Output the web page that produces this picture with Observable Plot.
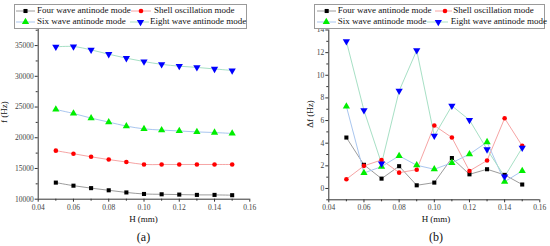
<!DOCTYPE html>
<html>
<head>
<meta charset="utf-8">
<script src="https://cdn.jsdelivr.net/npm/d3@7"></script>
<script src="https://cdn.jsdelivr.net/npm/@observablehq/plot@0.6"></script>
<style>
  html, body { margin: 0; padding: 0; background: #fff; }
  #wrap { position: relative; width: 550px; height: 246px; overflow: hidden; font-family: 'Liberation Serif', 'Times New Roman', serif; color: #111; }
  .panel { position: absolute; top: 0; width: 275px; height: 246px; }
  .panel svg { display: block; }
  .lbox { position: absolute; border: 1px solid #9a9a9a; background: #fff; box-sizing: border-box; }
  .ltxt { position: absolute; font-size: 9px; line-height: 11px; white-space: nowrap; color: #111; }
  .lsym { position: absolute; }
  .xl { position: absolute; font-size: 9px; line-height: 11px; white-space: nowrap; transform: translate(-50%, -50%); color: #111; }
  .yl { position: absolute; font-size: 9px; line-height: 11px; white-space: nowrap; transform: translate(-50%, -50%) rotate(-90deg); color: #111; }
  .cap { position: absolute; font-size: 12px; line-height: 14px; white-space: nowrap; transform: translate(-50%, -50%); color: #111; }
</style>
</head>
<body>
<div id="wrap">
  <div class="panel" id="pa" style="left:0"></div>
  <div class="panel" id="pb" style="left:275px"></div>
</div>
<script>
// ---------- data ----------
const H = [0.05, 0.06, 0.07, 0.08, 0.09, 0.10, 0.11, 0.12, 0.13, 0.14, 0.15];
const modes = ["Four wave antinode mode", "Shell oscillation mode", "Six wave antinode mode", "Eight wave antinode mode"];

// (a) natural frequency f (Hz)
const fFour  = [12700, 12200, 11800, 11450, 11100, 10850, 10800, 10750, 10700, 10700, 10650];
const fShell = [17900, 17400, 16900, 16450, 16050, 15650, 15650, 15650, 15650, 15650, 15650];
const fSix   = [24600, 23950, 23200, 22550, 21900, 21450, 21250, 21100, 20950, 20850, 20700];
const fEight = [34800, 34850, 34300, 33600, 32950, 32400, 31950, 31650, 31450, 31200, 30950];

// (b) frequency split Δf (Hz)
const dFour  = [4.5, 2.09, 0.87, 1.97, 0.28, 0.52, 2.69, 1.25, 1.7, 1.2, 0.35];
const dShell = [0.82, 2.0, 2.52, 1.4, 1.66, 5.56, 4.5, 1.55, 2.47, 6.2, 3.76];
const dSix   = [7.25, 1.37, 1.93, 2.88, 2.05, 1.7, 2.27, 3.03, 4.1, 0.6, 1.55];
const dEight = [13.0, 6.9, 2.2, 8.62, 12.2, 4.65, 7.3, 6.05, 3.45, 1.05, 3.6];

// ticks
const xTicks = [0.04, 0.06, 0.08, 0.10, 0.12, 0.14, 0.16];
const xMinor = [0.05, 0.07, 0.09, 0.11, 0.13, 0.15];
const fTicks = [10000, 15000, 20000, 25000, 30000, 35000];
const fMinor = [12500, 17500, 22500, 27500, 32500, 37500];
const dTicks = [0, 2, 4, 6, 8, 10, 12, 14];
const dMinor = [-1, 1, 3, 5, 7, 9, 11, 13];

// ---------- styles ----------
const lineColors = ["#9c9c9c", "#f6a4a4", "#a9c6ef", "#a7e0c5"];
const dotColors  = ["#000000", "#ff0000", "#00ee00", "#0000ff"];
const triDown = {
  draw(ctx, size) {
    const y = -Math.sqrt(size / (Math.sqrt(3) * 3));
    const s = Math.sqrt(3);
    ctx.moveTo(0, -y * 2);
    ctx.lineTo(-s * y, y);
    ctx.lineTo(s * y, y);
    ctx.closePath();
  }
};
const symbols = [d3.symbolSquare, d3.symbolCircle, d3.symbolTriangle, triDown];
const radii = [2.3, 2.3, 2.7, 2.7];
const FONT = "'Liberation Serif','Times New Roman',serif";

function table(seriesList) {
  return seriesList.map((vals, i) => H.map((h, j) => ({H: h, v: vals[j], mode: modes[i]})));
}

function makePlot({series, yDomain, yTicks, yMinorTicks, curve, m}) {
  const data = table(series);
  const marks = [
    Plot.axisX({ticks: xTicks, tickSize: 3, tickPadding: 2, tickFormat: d => d.toFixed(2), label: null, stroke: "#333", fill: "#444"}),
    Plot.axisX({ticks: xMinor, tickSize: 2, tickFormat: () => "", label: null, stroke: "#333"}),
    Plot.axisY({ticks: yTicks, tickSize: 3, tickPadding: 1.5, tickFormat: d => String(d), label: null, stroke: "#333", fill: "#444"}),
    Plot.axisY({ticks: yMinorTicks, tickSize: 2, tickFormat: () => "", label: null, stroke: "#333"}),
    Plot.ruleX([0.04], {stroke: "#333"}),
    Plot.ruleY([yDomain[0]], {stroke: "#333"})
  ];
  data.forEach((rows, i) => {
    marks.push(Plot.line(rows, {x: "H", y: "v", stroke: lineColors[i], strokeWidth: 1, curve}));
  });
  data.forEach((rows, i) => {
    marks.push(Plot.dot(rows, {x: "H", y: "v", symbol: () => symbols[i], fill: dotColors[i], stroke: "none", r: radii[i]}));
  });
  return Plot.plot({
    width: 275, height: 246,
    marginLeft: m.l, marginRight: m.r, marginTop: m.t, marginBottom: m.b,
    x: {domain: [0.04, 0.16]},
    y: {domain: yDomain},
    symbol: {type: "identity"},
    style: {fontFamily: FONT, fontSize: "7.5px", background: "transparent", color: "#444"},
    marks
  });
}

function addLegend(panel, box, entries) {
  const b = document.createElement("div");
  b.className = "lbox";
  Object.assign(b.style, {left: box.x + "px", top: box.y + "px", width: box.w + "px", height: box.h + "px"});
  panel.appendChild(b);
  entries.forEach((e, i) => {
    const w = e.x2 - e.x1;
    const svg = d3.create("svg").attr("class", "lsym").attr("width", w).attr("height", 10)
      .style("left", e.x1 + "px").style("top", (e.y - 5) + "px");
    svg.append("line").attr("x1", 0).attr("x2", w).attr("y1", 5).attr("y2", 5)
      .attr("stroke", lineColors[i]).attr("stroke-width", 1);
    const r = radii[i];
    svg.append("path").attr("transform", `translate(${e.mx - e.x1},5)`)
      .attr("d", d3.symbol(symbols[i], Math.PI * r * r)())
      .attr("fill", dotColors[i]);
    panel.appendChild(svg.node());
    const t = document.createElement("div");
    t.className = "ltxt";
    t.textContent = modes[i];
    t.style.left = e.tx + "px";
    t.style.top = (e.y - 6) + "px";
    panel.appendChild(t);
  });
}

function addText(panel, cls, txt, x, y) {
  const d = document.createElement("div");
  d.className = cls;
  d.textContent = txt;
  d.style.left = x + "px";
  d.style.top = y + "px";
  panel.appendChild(d);
}

// ---------- panel (a) ----------
const pa = document.getElementById("pa");
pa.appendChild(makePlot({
  series: [fFour, fShell, fSix, fEight],
  yDomain: [10000, 37700], yTicks: fTicks, yMinorTicks: fMinor,
  curve: "catmull-rom",
  m: {l: 37.7, r: 25.7, t: 28.5, b: 47.3}
}));
addLegend(pa, {x: 14, y: 4, w: 233, h: 25}, [
  {x1: 16, x2: 35, mx: 25.5, y: 11, tx: 37},
  {x1: 131, x2: 151, mx: 141, y: 11, tx: 154},
  {x1: 16, x2: 35, mx: 25.5, y: 22, tx: 37},
  {x1: 130, x2: 149, mx: 140.5, y: 22, tx: 150}
]);
addText(pa, "yl", "f (Hz)", 4, 112);
addText(pa, "xl", "H (mm)", 143.5, 219);
addText(pa, "cap", "(a)", 143.5, 237);

// ---------- panel (b) ----------
const pb = document.getElementById("pb");
pb.appendChild(makePlot({
  series: [dFour, dShell, dSix, dEight],
  yDomain: [-1, 14], yTicks: dTicks, yMinorTicks: dMinor,
  curve: "linear",
  m: {l: 53.3, r: 10.7, t: 29.5, b: 46.7}
}));
addLegend(pb, {x: 39.3, y: 4, w: 231, h: 25}, [
  {x1: 42, x2: 61, mx: 51.7, y: 11, tx: 62.7},
  {x1: 160, x2: 177, mx: 170, y: 11, tx: 178.3},
  {x1: 42, x2: 61, mx: 51.3, y: 22, tx: 62.7},
  {x1: 152, x2: 173, mx: 163.3, y: 22, tx: 175.7}
]);
addText(pb, "yl", "Δf (Hz)", 35, 114);
addText(pb, "xl", "H (mm)", 161, 219);
addText(pb, "cap", "(b)", 161, 237);
</script>
</body>
</html>
